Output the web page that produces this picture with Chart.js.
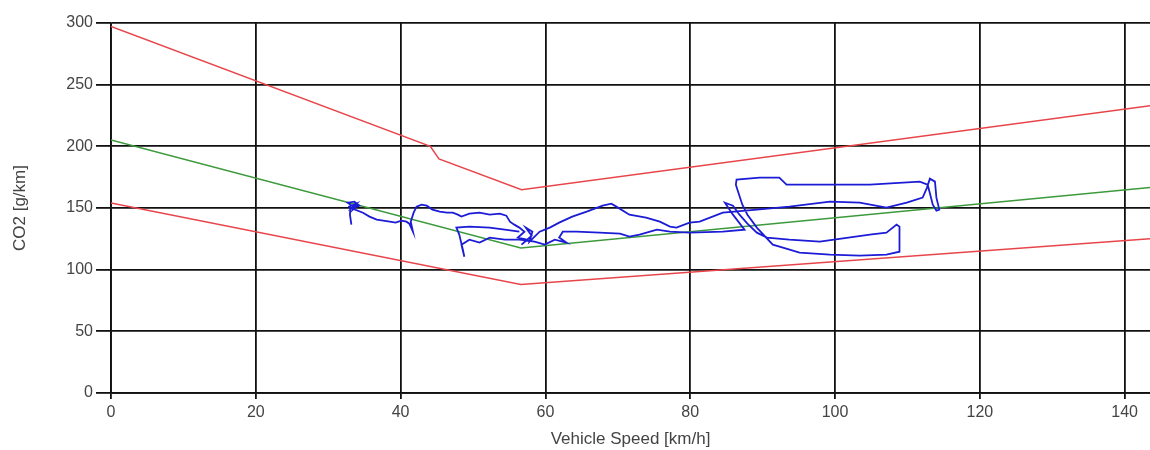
<!DOCTYPE html>
<html>
<head>
<meta charset="utf-8">
<script src="https://cdn.jsdelivr.net/npm/chart.js@4/dist/chart.umd.min.js"></script>
<style>
  body { margin: 0; background: #fff; }
  #co2Chart { display: block; }
</style>
</head>
<body>
<canvas id="co2Chart" width="1150" height="450"></canvas>
<script>
// axis ticks
const speedTicks = [0, 20, 40, 60, 80, 100, 120, 140];
const co2Ticks = [0, 50, 100, 150, 200, 250, 300];

// limit / reference lines (speed km/h, CO2 g/km)
const upperSpeed = [0, 44.1, 45.3, 56.7, 143.5];
const upperCo2 = [297.3, 200, 189.8, 164.9, 233];
const lowerSpeed = [0, 56.6, 143.5];
const lowerCo2 = [154, 88, 125.1];
const refSpeed = [0, 56.6, 143.5];
const refCo2 = [205.2, 117.5, 166.7];

// measured trip trace
const traceSpeed = [33.2,33.0,33.1,32.7,33.6,34.1,33.4,33.8,34.3,33.2,33.9,32.9,33.0,34.8,35.7,36.7,37.6,38.5,39.3,40.1,40.8,41.2,41.7,41.4,41.8,42.2,42.9,43.6,44.4,45.4,46.4,47.2,47.9,48.4,
  49.5,50.9,52.3,53.7,54.6,55.1,55.7,
  56.4,57.1,56.2,57.5,56.7,58.1,57.3,58.2,57.8,
  59.2,60.6,61.9,63.7,65.7,67.9,69.1,69.8,71.6,73.9,75.8,77.2,78.1,79.9,81.3,
  84.5,89.2,93.7,99.3,103.4,107.1,109.9,112.1,112.7,113.1,113.8,114.0,114.4,114.0,113.5,112.8,111.7,104.8,97.9,93.3,92.3,89.6,86.4,86.3,86.6,87.2,87.9,89.2,91.4,92.8,95.1,99.3,103.4,107.1,108.9,108.9,108.5,107.1,104.8,97.9,93.7,90.6,89.2,87.9,86.8,85.9,84.8,85.9,87.5,84.5,79.9,77.2,75.4,73.0,71.6,70.3,67.5,64.3,62.4,61.9,62.9,61.3,59.9,58.5,
  56.4,54.4,52.3,50.9,49.5,48.4,48.8,48.6,48.1,47.7,49.5,52.3,54.4,56.4];
const traceCo2 = [136.5,144.6,152.7,154.3,155.1,152.7,148.7,154.3,151.9,149.5,153.5,151.1,150.3,146.2,143.0,140.6,139.7,138.9,138.1,139.7,138.9,137.3,130.8,138.9,146.2,151.1,152.7,151.9,148.7,147.0,146.2,146.2,144.6,143.0,
  145.4,146.2,144.6,145.4,143.8,138.9,136.5,
  134.1,130.8,126.0,124.3,120.3,127.6,134.1,130.8,122.7,
  130.8,134.1,138.1,143.0,147.0,151.9,153.5,151.1,144.6,142.2,138.9,134.9,134.1,138.1,138.9,
  146.2,148.7,151.1,155.1,154.3,150.3,154.3,158.4,166.5,173.8,171.4,158.4,148.7,147.8,152.7,168.9,171.4,168.9,168.9,168.9,174.6,174.6,173.0,168.9,163.3,152.7,144.6,134.1,120.3,117.8,113.8,112.2,111.4,112.2,114.6,134.9,136.5,130.0,128.4,122.7,124.3,126.0,130.0,137.3,144.6,151.9,154.3,144.6,132.4,130.8,130.0,130.8,132.4,128.4,126.8,129.2,130.0,130.8,130.8,126.0,121.9,124.3,120.3,122.7,
  124.3,124.3,126.0,121.9,124.3,120.3,110.5,116.2,128.4,134.1,134.9,134.1,132.4,130.8];

const toPoints = (xs, ys) => xs.map((x, i) => ({ x: x, y: ys[i] }));

(function() {
    const ctx = document.getElementById('co2Chart');
    const tickFont = { family: "'Liberation Sans', Arial, sans-serif", size: 16 };
    const titleFont = { family: "'Liberation Sans', Arial, sans-serif", size: 17 };
    const gridColor = '#111';

    new Chart(ctx, {
        type: 'scatter',
        data: {
            datasets: [{
                label: 'Trip',
                data: toPoints(traceSpeed, traceCo2),
                borderColor: '#1c1cd6',
                borderWidth: 1.8
            }, {
                label: 'Reference',
                data: toPoints(refSpeed, refCo2),
                borderColor: '#3c9a3c',
                borderWidth: 1.5
            }, {
                label: 'Upper limit',
                data: toPoints(upperSpeed, upperCo2),
                borderColor: '#e8454a',
                borderWidth: 1.5
            }, {
                label: 'Lower limit',
                data: toPoints(lowerSpeed, lowerCo2),
                borderColor: '#e8454a',
                borderWidth: 1.5
            }]
        },
        options: {
            responsive: false,
            animation: false,
            showLine: true,
            elements: {
                point: { radius: 0, hoverRadius: 0 },
                line: { tension: 0 }
            },
            layout: { padding: { top: 23, right: 0, left: 0, bottom: 0 } },
            plugins: {
                legend: { display: false },
                tooltip: { enabled: false }
            },
            scales: {
                x: {
                    type: 'linear',
                    min: 0,
                    max: 143.5,
                    afterFit: (scale) => { scale.height = 57; },
                    afterBuildTicks: (scale) => {
                        scale.ticks = speedTicks.map(v => ({ value: v }));
                    },
                    ticks: {
                        font: tickFont,
                        color: '#444',
                        padding: 4,
                        maxRotation: 0,
                        includeBounds: false
                    },
                    grid: { color: gridColor, lineWidth: 1.8, tickLength: 6 },
                    border: { color: gridColor, width: 1.8 },
                    title: {
                        display: true,
                        text: 'Vehicle Speed [km/h]',
                        font: titleFont,
                        color: '#444',
                        padding: { top: 0, bottom: 0 }
                    }
                },
                y: {
                    min: 0,
                    max: 300,
                    afterFit: (scale) => { scale.width = 111; },
                    afterBuildTicks: (scale) => {
                        scale.ticks = co2Ticks.map(v => ({ value: v }));
                    },
                    ticks: {
                        font: tickFont,
                        color: '#444',
                        padding: 3
                    },
                    grid: { color: gridColor, lineWidth: 1.8, tickLength: 15 },
                    border: { color: gridColor, width: 1.8 },
                    title: {
                        display: true,
                        text: 'CO2 [g/km]',
                        font: titleFont,
                        color: '#444',
                        padding: { top: 10, bottom: 0 }
                    }
                }
            }
        }
    });
})();
</script>
</body>
</html>
